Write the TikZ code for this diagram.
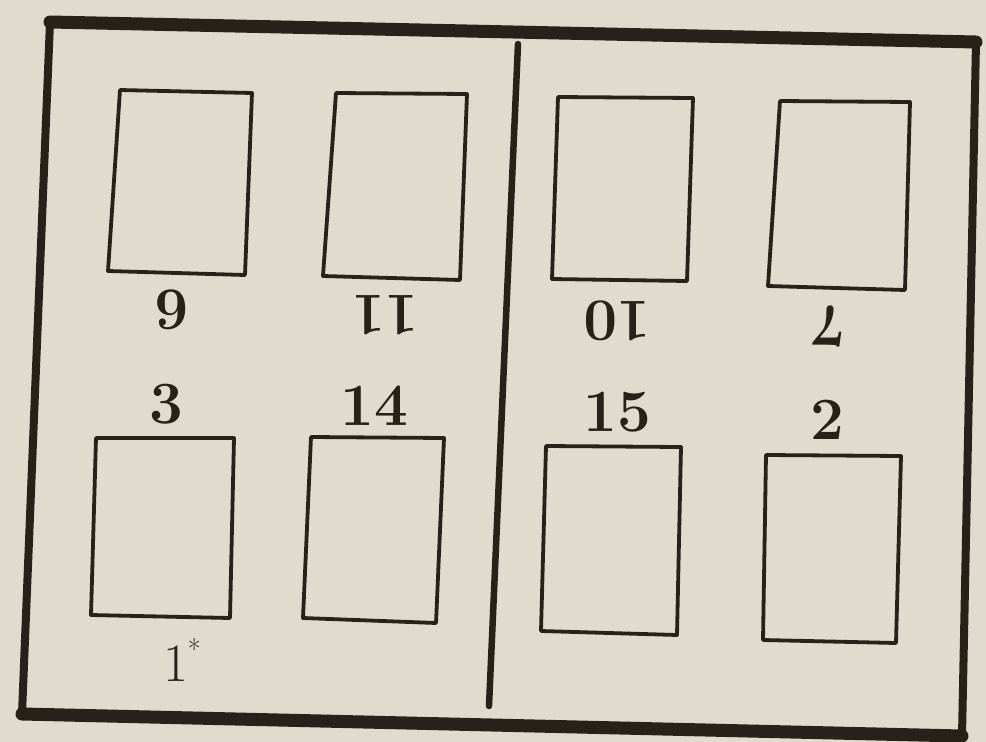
\documentclass[tikz,border=0pt]{standalone}
\begin{document}
\begin{tikzpicture}[x=1pt,y=-1pt,
  ink/.style={draw=inkc,line join=round,line cap=round},
  page/.style={ink,line width=3.8pt},
  num/.style={inner sep=0pt,text=inkc,font=\fontsize{60}{64}\selectfont\bfseries},
  flipnum/.style={num,rotate=180},
  plain/.style={inner sep=0pt,text=inkc,font=\fontsize{54}{58}\selectfont}]
\definecolor{paper}{RGB}{224,219,204}
\definecolor{inkc}{RGB}{38,34,26}
\useasboundingbox (0,0) rectangle (986,742);
\fill[paper] (0,0) rectangle (986,742);
% outer frame
\coordinate (tl) at (50,22);
\coordinate (tr) at (976,42);
\coordinate (bl) at (22,714);
\coordinate (br) at (962,736);
\draw[ink,line width=13pt] (tl) -- (tr);
\draw[ink,line width=13pt] (bl) -- (br);
\draw[ink,line width=8pt] (tl) -- (bl);
\draw[ink,line width=8pt] (tr) -- (br);
% divider
\coordinate (dt) at (518,44);
\coordinate (db) at (489,706);
\draw[ink,line width=6.5pt] (dt) -- (db);
% pages, top row
\draw[page] (120,90) -- (252,93) -- (245,275) -- (108,271) -- cycle;
\draw[page] (336,93) -- (467,94) -- (460,280) -- (323,276) -- cycle;
\draw[page] (558,97) -- (693,98) -- (687,281) -- (552,279) -- cycle;
\draw[page] (780,101) -- (910,102) -- (905,290) -- (768,286) -- cycle;
% pages, bottom row
\draw[page] (96,438) -- (234,438) -- (230,618) -- (91,615) -- cycle;
\draw[page] (311,437) -- (444,438) -- (436,623) -- (303,618) -- cycle;
\draw[page] (546,446) -- (681,447) -- (677,635) -- (541,631) -- cycle;
\draw[page] (766,455) -- (901,456) -- (896,643) -- (763,640) -- cycle;
% labels
\node[flipnum] (p6) at (172,310) {6};
\node[flipnum] (p11) at (385,315) {11};
\node[flipnum] (p10) at (617,321) {10};
\node[flipnum] (p7) at (829,326) {7};
\node[num] (p3) at (166,404) {3};
\node[num] (p14) at (374,406) {14};
\node[num] (p15) at (617,412) {15};
\node[num] (p2) at (827,420) {2};
\node[plain] (p1) at (182,660) {1\raisebox{0.4em}{\fontsize{28}{30}\selectfont *}};
\end{tikzpicture}
\end{document}
